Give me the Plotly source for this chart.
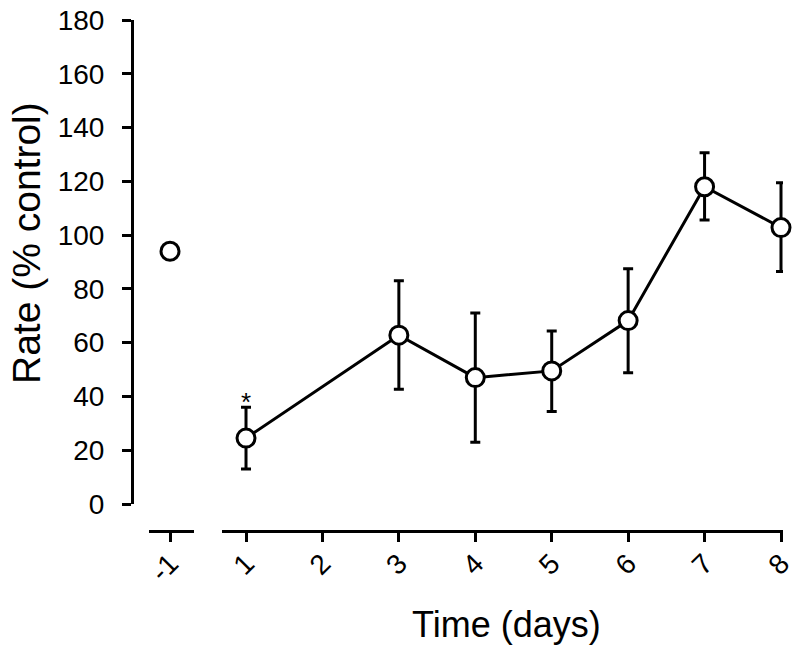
import plotly.graph_objects as go

# Data
baseline_day = [-1]
baseline_rate = [94]

days = [1, 3, 4, 5, 6, 7, 8]
rate = [24.5, 62.8, 47.0, 49.5, 68.2, 118.0, 102.8]
err_upper = [36.0, 83.0, 71.0, 64.3, 87.5, 130.6, 119.5]
err_lower = [13.0, 42.7, 23.0, 34.4, 48.8, 105.6, 86.5]

x2_ticks = [1, 2, 3, 4, 5, 6, 7, 8]
x2_ticklabels = ["1", "2", "3", "4", "5", "6", "7", "8"]
y_ticks = [0, 20, 40, 60, 80, 100, 120, 140, 160, 180]

plus = [u - r for u, r in zip(err_upper, rate)]
minus = [r - l for r, l in zip(rate, err_lower)]

FONT = "Liberation Sans, Arial, Helvetica, sans-serif"
W, H = 800, 653
ML, MR, MT, MB = 132, 10, 20, 122
PW = W - ML - MR
PH = H - MT - MB

def px_x(p):
    return (p - ML) / PW

def px_y(p):
    return (H - MB - p) / PH

marker = dict(symbol="circle", size=18, color="white", line=dict(color="black", width=3))

fig = go.Figure()
fig.add_trace(go.Scatter(
    x=baseline_day, y=baseline_rate, xaxis="x", yaxis="y",
    mode="markers", marker=marker, cliponaxis=False, showlegend=False,
))
fig.add_trace(go.Scatter(
    x=days, y=rate, xaxis="x2", yaxis="y",
    mode="lines+markers", marker=marker,
    line=dict(color="black", width=3),
    error_y=dict(type="data", array=plus, arrayminus=minus, color="black",
                 thickness=3, width=5),
    cliponaxis=False, showlegend=False,
))

fig.add_annotation(x=1, y=err_upper[0], xref="x2", yref="y", text="*",
                   showarrow=False, yanchor="bottom", yshift=-12,
                   font=dict(family=FONT, size=26, color="black"))

fig.add_annotation(x=px_x(506), y=px_y(624), xref="paper", yref="paper",
                   text="Time (days)", showarrow=False,
                   xanchor="center", yanchor="middle",
                   font=dict(family=FONT, size=36, color="black"))
fig.add_annotation(x=px_x(26), y=px_y(243), xref="paper", yref="paper",
                   text="Rate (% control)", showarrow=False, textangle=-90,
                   xanchor="center", yanchor="middle",
                   font=dict(family=FONT, size=39, color="black"))

step = 76.4
axis_common = dict(
    showline=True, linecolor="black", linewidth=3,
    ticks="outside", ticklen=9, tickwidth=2.5, tickcolor="black",
    tickangle=-45, showgrid=False, zeroline=False, automargin=False,
    tickfont=dict(family=FONT, size=28, color="black"),
    anchor="free", position=0, ticklabelstandoff=-6,
)

x1_left, x1_right = 149, 194
x2_left, x2_right = 222, 783
fig.update_layout(
    width=W, height=H,
    margin=dict(l=ML, r=MR, t=MT, b=MB, autoexpand=False),
    paper_bgcolor="white", plot_bgcolor="white",
    xaxis=dict(domain=[px_x(x1_left), px_x(x1_right)],
               range=[-1 - (170 - x1_left) / step, -1 + (x1_right - 170) / step],
               tickvals=baseline_day, ticktext=["-1"], **axis_common),
    xaxis2=dict(domain=[px_x(x2_left), px_x(x2_right)],
                range=[1 - (246 - x2_left) / step, 8 + 2 / step],
                tickvals=x2_ticks, ticktext=x2_ticklabels, **axis_common),
    yaxis=dict(domain=[px_y(504), 1], range=[0, 180],
               anchor="free", position=0, automargin=False,
               showline=True, linecolor="black", linewidth=3,
               ticks="outside", ticklen=9, tickwidth=2.5, tickcolor="black",
               tickvals=y_ticks, showgrid=False, zeroline=False,
               tickfont=dict(family=FONT, size=28, color="black"),
               ticklabelstandoff=12),
)

fig.write_html("out.html", config={"displayModeBar": False},
               post_script="document.body.style.margin='0px';document.body.style.overflow='hidden';")
